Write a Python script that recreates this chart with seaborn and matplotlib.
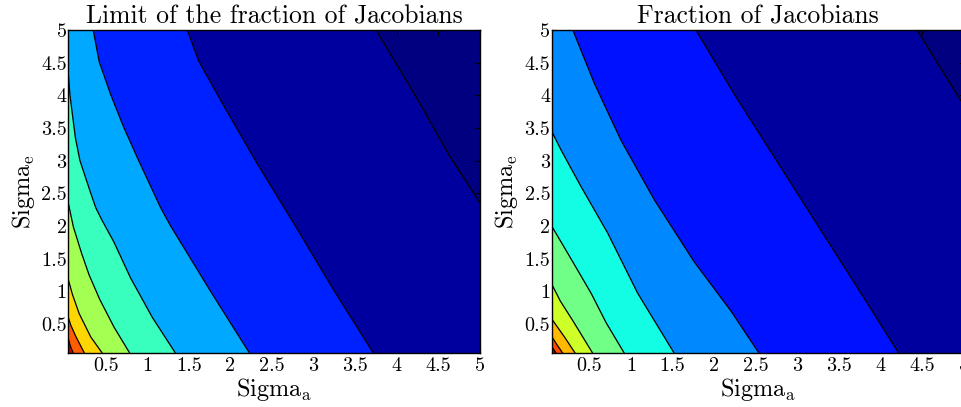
import matplotlib
matplotlib.use("Agg")
import matplotlib as mpl
import matplotlib.pyplot as plt
import seaborn as sns
from matplotlib.colors import Normalize
from matplotlib.ticker import FixedLocator, FixedFormatter

# ---------------- data ----------------
sigma_min, sigma_max = 0.05, 5.0
tick_values = [0.5, 1, 1.5, 2, 2.5, 3, 3.5, 4, 4.5, 5]
tick_labels = ['0.5', '1', '1.5', '2', '2.5', '3', '3.5', '4', '4.5', '5']

titles = ["Limit of the fraction of Jacobians", "Fraction of Jacobians"]

# contour levels (lowest first); the top level is not reached by the data
left_levels = [0.1, 0.2, 0.3, 0.4, 0.5, 0.6, 0.7, 0.8, 0.9]
right_levels = [0.1, 0.2, 0.3, 0.4, 0.5, 0.6, 0.7, 0.8, 0.9, 1.0]
# limits of the colour scale (jet)
left_color_range = (0.127, 0.896)
right_color_range = (0.124, 1.0)

# contour lines (one per level, lowest level first), sigma_a / sigma_e
left_contour_a = [
    [5.0, 4.62, 4.22, 3.75],
    [3.72, 3.25, 2.78, 2.30, 1.91, 1.62, 1.48],
    [2.23, 1.76, 1.28, 1.16, 0.90, 0.72, 0.56, 0.42, 0.35],
    [1.34, 1.06, 0.80, 0.60, 0.45, 0.38, 0.32, 0.19, 0.135, 0.10, 0.07, 0.05],
    [0.79, 0.60, 0.43, 0.30, 0.21, 0.11, 0.05],
    [0.46, 0.32, 0.18, 0.10, 0.05],
    [0.245, 0.14, 0.08, 0.05],
    [0.11, 0.075, 0.05],
]
left_contour_e = [
    [2.35, 3.10, 4.00, 5.0],
    [0.05, 1.0, 2.0, 3.0, 3.86, 4.52, 5.0],
    [0.05, 1.0, 2.0, 2.28, 2.99, 3.50, 4.01, 4.52, 5.0],
    [0.05, 0.60, 1.20, 1.75, 2.10, 2.28, 2.50, 3.00, 3.35, 3.70, 4.00, 4.32],
    [0.05, 0.45, 0.87, 1.25, 1.58, 1.99, 2.35],
    [0.05, 0.30, 0.66, 0.95, 1.18],
    [0.05, 0.31, 0.48, 0.60],
    [0.05, 0.16, 0.27],
]

right_contour_a = [
    [5.0, 4.72, 4.44],
    [4.22, 3.75, 3.25, 2.75, 2.25, 1.78],
    [2.54, 2.20, 1.76, 1.28, 0.88, 0.56, 0.30],
    [1.52, 1.08, 0.72, 0.40, 0.16, 0.05],
    [0.92, 0.70, 0.52, 0.24, 0.05],
    [0.54, 0.30, 0.15, 0.05],
    [0.33, 0.20, 0.05],
    [0.18, 0.10, 0.05],
    [0.10, 0.05],
]
right_contour_e = [
    [3.85, 4.42, 5.0],
    [0.05, 1.0, 2.0, 3.0, 4.0, 5.0],
    [0.05, 0.70, 1.45, 2.40, 3.31, 4.18, 5.0],
    [0.05, 0.97, 1.89, 2.60, 3.16, 3.44],
    [0.05, 0.52, 0.97, 1.58, 1.99],
    [0.05, 0.55, 0.85, 1.10],
    [0.05, 0.30, 0.57],
    [0.05, 0.20, 0.30],
    [0.05, 0.15],
]

# ---------------- style ----------------
sns.set_theme(style="ticks")
plt.rcParams.update({
    "font.family": ["serif"],
    "font.serif": ["cmr10", "DejaVu Serif"],
    "mathtext.fontset": "cm",
    "axes.formatter.use_mathtext": True,
    "axes.linewidth": 1.0,
    "axes.edgecolor": "black",
    "xtick.direction": "in",
    "ytick.direction": "in",
    "xtick.top": True,
    "ytick.right": True,
    "xtick.major.size": 3.5,
    "ytick.major.size": 3.5,
    "xtick.major.width": 0.8,
    "ytick.major.width": 0.8,
    "xtick.color": "black",
    "ytick.color": "black",
    "text.color": "black",
    "axes.labelcolor": "black",
})

W, H = 962, 407
fig = plt.figure(figsize=(W / 100, H / 100), dpi=100)
ax_w, ax_h = 411.7 / W, 323.3 / H
ax_b = (H - 353.3) / H
axes = [fig.add_axes([68.3 / W, ax_b, ax_w, ax_h]),
        fig.add_axes([552.0 / W, ax_b, ax_w, ax_h])]

cmap = mpl.colormaps["jet"]
FAR = -10.0

panels = [
    (left_levels, left_color_range, left_contour_a, left_contour_e),
    (right_levels, right_color_range, right_contour_a, right_contour_e),
]

for ax, title, (levels, crange, ca, ce) in zip(axes, titles, panels):
    norm = Normalize(vmin=crange[0], vmax=crange[1])
    ax.set_facecolor(cmap.get_under())
    # fill the side of each contour line that faces the origin, outermost first
    for k, (xa, ye) in enumerate(zip(ca, ce)):
        mid = 0.5 * (levels[k] + levels[k + 1])
        px = [xa[0]] + list(xa) + [FAR, FAR]
        py = [FAR] + list(ye) + [ye[-1], FAR]
        ax.fill(px, py, color=cmap(norm(mid)), lw=0, zorder=1)
    for xa, ye in zip(ca, ce):
        ax.plot(xa, ye, color="black", lw=0.9, zorder=2)

    ax.set_xlim(sigma_min, sigma_max)
    ax.set_ylim(sigma_min, sigma_max)
    for axis in (ax.xaxis, ax.yaxis):
        axis.set_major_locator(FixedLocator(tick_values))
        axis.set_major_formatter(FixedFormatter(tick_labels))
    ax.tick_params(axis="x", labelsize=14.5, pad=2.5)
    ax.tick_params(axis="y", labelsize=14.5, pad=1.2)
    ax.set_title(title, fontsize=18.5, pad=5)
    ax.set_xlabel(r"Sigma$_{\rm a}$", fontsize=17.5, labelpad=1)
    ax.set_ylabel(r"Sigma$_{\rm e}$", fontsize=17.5, labelpad=3)
    for sp in ax.spines.values():
        sp.set_color("black")
        sp.set_linewidth(1.0)
        sp.set_zorder(5)

fig.savefig("out.png", dpi=100)
